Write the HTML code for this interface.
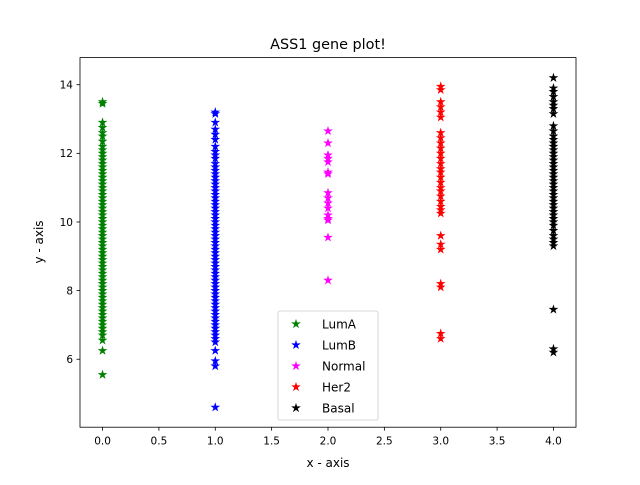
<!DOCTYPE html>
<html><head><meta charset="utf-8"><style>
body{margin:0;background:#fff;font-family:"Liberation Sans","DejaVu Sans",sans-serif}
svg text{font-family:"DejaVu Sans","Liberation Sans",sans-serif}
</style></head><body>
<svg id="c" width="640" height="480" xmlns="http://www.w3.org/2000/svg">
<rect width="640" height="480" fill="#fff"/>
<text x="328" y="49" font-size="14.4" text-anchor="middle">ASS1 gene plot!</text>
<g id="marks"></g>
<rect x="80" y="57.6" width="496" height="369.6" fill="none" stroke="#000" stroke-width="0.8"/>
<g id="axes"></g>
<text x="328" y="467" font-size="12" text-anchor="middle">x - axis</text>
<text x="0" y="0" font-size="12" text-anchor="middle" transform="translate(43,242) rotate(-90)">y - axis</text>
<g id="legend"></g>
</svg>
<script>
const categories=[0,1,2,3,4];
const seriesNames=["LumA","LumB","Normal","Her2","Basal"];
const seriesColors=["green","blue","magenta","red","black"];
const lumA=[13.5,13.45,12.9,12.75,12.6,12.5,12.35,12.2,12.1,12.0,11.9,11.8,11.7,11.6,11.5,11.4,11.3,11.2,11.1,11.0,10.9,10.8,10.7,10.6,10.5,10.4,10.3,10.2,10.1,10.0,9.9,9.8,9.7,9.6,9.5,9.4,9.3,9.2,9.1,9.0,8.9,8.8,8.7,8.6,8.5,8.4,8.3,8.2,8.1,8.0,7.9,7.8,7.7,7.6,7.5,7.4,7.3,7.2,7.1,7.0,6.9,6.8,6.7,6.55,6.25,5.55];
const lumB=[13.2,13.15,12.9,12.7,12.55,12.4,12.2,12.05,11.95,11.85,11.7,11.6,11.5,11.4,11.3,11.2,11.1,11.0,10.9,10.8,10.7,10.6,10.5,10.4,10.3,10.2,10.1,10.0,9.9,9.8,9.7,9.6,9.5,9.4,9.3,9.2,9.1,9.0,8.9,8.8,8.7,8.6,8.5,8.4,8.3,8.2,8.1,8.0,7.9,7.8,7.7,7.6,7.5,7.4,7.3,7.2,7.1,7.0,6.9,6.8,6.7,6.6,6.5,6.25,5.95,5.8,4.6];
const normal=[12.65,12.3,11.95,11.85,11.75,11.45,11.4,10.85,10.7,10.55,10.4,10.2,10.1,10.05,9.55,8.3];
const her2=[13.95,13.85,13.5,13.35,13.2,13.05,12.6,12.45,12.3,12.15,12.0,11.85,11.7,11.55,11.45,11.3,11.15,11.0,10.9,10.75,10.6,10.45,10.35,10.25,9.6,9.35,9.2,8.2,8.1,6.75,6.6];
const basal=[14.2,13.9,13.8,13.65,13.5,13.4,13.3,13.15,12.8,12.65,12.5,12.4,12.3,12.2,12.1,12.0,11.9,11.8,11.7,11.6,11.5,11.4,11.3,11.2,11.1,11.0,10.9,10.8,10.7,10.6,10.5,10.4,10.3,10.2,10.1,10.0,9.9,9.75,9.6,9.5,9.4,9.3,7.45,6.3,6.2];
const xTicks=[0,0.5,1,1.5,2,2.5,3,3.5,4];
const xTickLabels=["0.0","0.5","1.0","1.5","2.0","2.5","3.0","3.5","4.0"];
const yTicks=[6,8,10,12,14];
const yTickLabels=["6","8","10","12","14"];
const allSeries=[lumA,lumB,normal,her2,basal];

const X0=80,X1=576,Y0=427.2,Y1=57.6,xmin=-0.2,xmax=4.2,ymin=4.02,ymax=14.79;
const sx=v=>X0+(v-xmin)/(xmax-xmin)*(X1-X0);
const sy=v=>Y0-(v-ymin)/(ymax-ymin)*(Y0-Y1);
const NS="http://www.w3.org/2000/svg";
function star(cx,cy,r){let p=[];for(let i=0;i<10;i++){const a=-Math.PI/2+i*Math.PI/5;const rr=i%2?r*0.38:r;p.push((cx+rr*Math.cos(a)).toFixed(2)+","+(cy+rr*Math.sin(a)).toFixed(2));}return p.join(" ");}
const marks=document.getElementById('marks');
allSeries.forEach((s,k)=>{
  const g=document.createElementNS(NS,'g');
  
  
  s.forEach(v=>{
    const p=document.createElementNS(NS,'polygon');
    p.setAttribute('points',star(sx(categories[k]),sy(v),3.8));
    p.setAttribute('fill',seriesColors[k]);
    p.setAttribute('stroke',seriesColors[k]);
    p.setAttribute('stroke-width','0.8');
    
    
    g.appendChild(p);
  });
  marks.appendChild(g);
});
const axes=document.getElementById('axes');
xTicks.forEach((t,i)=>{
  const x=sx(t);
  const l=document.createElementNS(NS,'line');
  l.setAttribute('x1',x);l.setAttribute('x2',x);l.setAttribute('y1',427.2);l.setAttribute('y2',430.7);l.setAttribute('stroke','#000');l.setAttribute('stroke-width','0.8');
  
  
  axes.appendChild(l);
  const tx=document.createElementNS(NS,'text');
  tx.setAttribute('x',x);tx.setAttribute('y',444.5);tx.setAttribute('font-size','10.5');tx.setAttribute('text-anchor','middle');
  tx.textContent=xTickLabels[i];
  
  
  axes.appendChild(tx);
});
yTicks.forEach((t,i)=>{
  const y=sy(t);
  const l=document.createElementNS(NS,'line');
  l.setAttribute('x1',76.5);l.setAttribute('x2',80);l.setAttribute('y1',y);l.setAttribute('y2',y);l.setAttribute('stroke','#000');l.setAttribute('stroke-width','0.8');
  
  
  axes.appendChild(l);
  const tx=document.createElementNS(NS,'text');
  tx.setAttribute('x',73);tx.setAttribute('y',y+3.8);tx.setAttribute('font-size','10.5');tx.setAttribute('text-anchor','end');
  tx.textContent=yTickLabels[i];
  
  
  axes.appendChild(tx);
});
const lg=document.getElementById('legend');
const box=document.createElementNS(NS,'rect');
box.setAttribute('x',278);box.setAttribute('y',311);box.setAttribute('width',100);box.setAttribute('height',109);box.setAttribute('rx',2);
box.setAttribute('fill','#fff');box.setAttribute('fill-opacity','0.8');box.setAttribute('stroke','#ccc');box.setAttribute('stroke-width','0.8');


lg.appendChild(box);
seriesNames.forEach((n,k)=>{
  const y=324+k*21;
  const p=document.createElementNS(NS,'polygon');
  p.setAttribute('points',star(296,y,3.8));p.setAttribute('fill',seriesColors[k]);
  p.setAttribute('stroke',seriesColors[k]);p.setAttribute('stroke-width','0.8');
  
  
  lg.appendChild(p);
  const t=document.createElementNS(NS,'text');
  t.setAttribute('x',322);t.setAttribute('y',y+4.5);t.setAttribute('font-size','12');t.textContent=n;
  
  
  lg.appendChild(t);
});
</script>
</body></html>
